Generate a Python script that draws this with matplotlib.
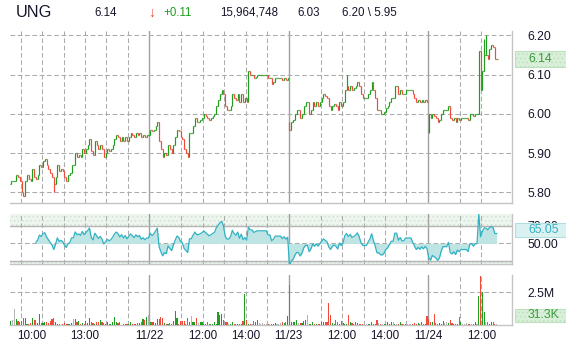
import numpy as np
import matplotlib
matplotlib.use("Agg")
import matplotlib.pyplot as plt
import matplotlib.transforms as mtransforms
from matplotlib.patches import Rectangle

plt.rcParams['font.family'] = ['Liberation Sans', 'DejaVu Sans']
plt.rcParams['hatch.linewidth'] = 0.6

# 5-minute closes, 78 bars per session (last session still open)
day1 = [5.83, 5.83, 5.83, 5.845, 5.84, 5.83, 5.80, 5.79, 5.83, 5.845,
        5.835, 5.83, 5.86, 5.84, 5.835, 5.845, 5.87, 5.865, 5.88, 5.885,
        5.87, 5.86, 5.85, 5.84, 5.82, 5.84, 5.87, 5.855, 5.86, 5.855,
        5.84, 5.83, 5.845, 5.85, 5.87, 5.87, 5.90, 5.89, 5.895, 5.89,
        5.91, 5.90, 5.91, 5.92, 5.935, 5.905, 5.895, 5.93, 5.92, 5.91,
        5.92, 5.91, 5.89, 5.90, 5.91, 5.905, 5.91, 5.92, 5.935, 5.945,
        5.94, 5.93, 5.94, 5.93, 5.94, 5.93, 5.94, 5.95, 5.945, 5.94,
        5.95, 5.945, 5.95, 5.94, 5.945, 5.94, 5.945, 5.945]
day2 = [5.96, 5.955, 5.96, 5.97, 5.98, 5.93, 5.91, 5.89, 5.90, 5.895,
        5.92, 5.91, 5.90, 5.92, 5.94, 5.96, 5.955, 5.94, 5.935, 5.91,
        5.90, 5.89, 5.95, 5.95, 5.97, 5.99, 5.98, 5.98, 5.985, 5.99,
        6.00, 5.995, 5.99, 5.985, 5.99, 5.995, 6.00, 6.02, 6.035, 6.05,
        6.06, 6.05, 6.02, 6.01, 6.01, 6.02, 6.05, 6.04, 6.035, 6.05,
        6.03, 6.05, 6.03, 6.04, 6.03, 6.11, 6.10, 6.10, 6.09, 6.095,
        6.10, 6.10, 6.10, 6.10, 6.10, 6.10, 6.09, 6.09, 6.075, 6.08,
        6.09, 6.09, 6.09, 6.09, 6.085, 6.09, 6.085, 6.09]
day3 = [5.96, 5.98, 5.985, 6.00, 6.01, 6.01, 5.99, 6.00, 6.02, 6.03,
        6.03, 6.00, 6.01, 6.03, 6.02, 6.03, 6.02, 6.03, 6.04, 6.05,
        6.045, 6.04, 6.02, 6.01, 6.02, 6.025, 6.02, 6.01, 6.03, 6.02,
        6.03, 6.06, 6.07, 6.06, 6.07, 6.06, 6.065, 6.07, 6.08, 6.07,
        6.05, 6.04, 6.04, 6.04, 6.05, 6.06, 6.08, 6.06, 6.04, 6.01,
        6.01, 6.00, 6.00, 6.005, 6.015, 6.02, 6.03, 6.04, 6.04, 6.07,
        6.07, 6.05, 6.06, 6.05, 6.05, 6.06, 6.06, 6.06, 6.06, 6.05,
        6.04, 6.03, 6.035, 6.03, 6.035, 6.03, 6.035, 6.03]
day4 = [6.00, 5.99, 6.00, 5.995, 5.99, 5.98, 5.985, 6.00, 6.01, 6.01,
        6.01, 6.02, 5.99, 5.985, 5.99, 5.98, 5.99, 5.985, 5.99, 5.99,
        5.99, 5.99, 5.985, 6.00, 6.00, 5.995, 6.00, 6.00, 6.16, 6.06,
        6.11, 6.15, 6.15, 6.14, 6.165, 6.175, 6.17, 6.14, 6.14]
day_opens = [5.82, 5.945, 5.98, 5.96]
wick_high = {188: 6.10, 265: 6.19, 266: 6.20}
wick_low = {24: 5.80, 234: 5.95}

# volume per bar, thousands of shares
vol1 = [300, 350, 1250, 425, 325, 200, 325, 500, 550, 100,
        50, 125, 500, 350, 350, 125, 850, 125, 125, 250,
        200, 125, 300, 450, 500, 200, 100, 100, 25, 75,
        125, 75, 50, 75, 125, 450, 450, 200, 300, 100,
        150, 100, 300, 125, 550, 250, 150, 100, 200, 250,
        400, 200, 150, 75, 250, 75, 100, 250, 600, 250,
        150, 200, 25, 50, 50, 75, 100, 200, 75, 50,
        100, 125, 125, 225, 450, 350, 625, 750]
vol2 = [250, 200, 250, 125, 450, 450, 625, 550, 150, 100,
        50, 150, 75, 300, 1100, 500, 100, 300, 300, 300,
        75, 550, 200, 650, 200, 200, 550, 150, 200, 200,
        50, 50, 200, 100, 50, 50, 250, 100, 1000, 800,
        850, 400, 200, 200, 100, 100, 200, 100, 100, 100,
        100, 75, 300, 2375, 350, 100, 100, 100, 300, 200,
        400, 150, 100, 150, 100, 50, 100, 50, 100, 50,
        150, 100, 50, 150, 250, 150, 200, 700]
vol3 = [3050, 200, 200, 200, 350, 150, 150, 150, 300, 400,
        800, 100, 100, 200, 50, 100, 100, 50, 200, 200,
        200, 200, 1700, 800, 150, 100, 400, 200, 100, 300,
        150, 100, 100, 800, 250, 150, 100, 250, 150, 100,
        100, 100, 50, 50, 50, 50, 200, 100, 100, 400,
        150, 100, 100, 100, 100, 200, 100, 250, 250, 50,
        50, 50, 200, 100, 50, 100, 50, 50, 50, 50,
        150, 100, 150, 100, 250, 50, 100, 700]
vol4 = [450, 200, 250, 850, 150, 100, 150, 100, 300, 150,
        200, 150, 350, 150, 50, 50, 50, 600, 200, 50,
        50, 150, 50, 50, 50, 100, 200, 100, 2200, 3750,
        2550, 1000, 200, 200, 100, 250, 250, 100, 100]

session_hours = [[10, 11, 12, 13, 14, 15], [11, 12, 13, 14, 15],
                 [11, 12, 13, 14, 15], [11, 12]]
tick_spots = [(0, 13, '13:00'), (1, 9.5, '11/22'), (1, 12, '12:00'),
              (1, 14, '14:00'), (2, 9.5, '11/23'), (2, 12, '12:00'),
              (2, 14, '14:00'), (3, 9.5, '11/24'), (3, 12, '12:00')]
header = ['UNG', '6.14', '\u2193', '+0.11', '15,964,748', '6.03', '6.20 \\ 5.95']
last_price, last_rsi, last_vol = '6.14', '65.05', '31.3K'

BARS = 78
GREEN, RED, GRAY = '#1e9e1e', '#f04a3a', '#b4b4b4'
TXT = '#15152a'


def bar_pos(day, hour):
    return day * BARS + (hour - 9.5) * 12 - 0.5


closes = np.array(day1 + day2 + day3 + day4)
n = len(closes)
x = np.arange(n)
opens = np.r_[closes[0], closes[:-1]]
for d, o in enumerate(day_opens):
    opens[d * BARS] = o
highs = np.maximum(opens, closes)
lows = np.minimum(opens, closes)
for i, v in wick_high.items():
    highs[i] = v
for i, v in wick_low.items():
    lows[i] = v
vols = np.array(vol1 + vol2 + vol3 + vol4)

# Wilder RSI(14)
delta = np.diff(closes)
gain = np.clip(delta, 0, None)
loss = np.clip(-delta, 0, None)
rsi = np.full(n, np.nan)
ag, al = gain[:14].mean(), loss[:14].mean()
rsi[14] = 100 - 100 / (1 + ag / al)
for i in range(15, n):
    ag = (ag * 13 + gain[i - 1]) / 14
    al = (al * 13 + loss[i - 1]) / 14
    rsi[i] = 100 if al == 0 else 100 - 100 / (1 + ag / al)

fig = plt.figure(figsize=(5.66, 3.5), dpi=100)
W, H = 566, 350
left, width = 10 / W, 502 / W
ax = fig.add_axes([left, (H - 203.3) / H, width, 172.3 / H])
axr = fig.add_axes([left, (H - 264) / H, width, 49.7 / H], sharex=ax)
axv = fig.add_axes([left, (H - 325) / H, width, 50 / H], sharex=ax)

dash = (0, (4.5, 2.5))
for a in (ax, axr, axv):
    for s in ('top', 'left'):
        a.spines[s].set_visible(False)
    for s in ('right', 'bottom'):
        a.spines[s].set_color('#c4c4c4')
        a.spines[s].set_linewidth(1.0)
    for d, hours in enumerate(session_hours):
        if d > 0:
            a.axvline(bar_pos(d, 9.5), color='#a0a0a0', lw=1.0, zorder=1)
        for h in hours:
            a.axvline(bar_pos(d, h), color='#ababab', lw=0.75, ls=dash, zorder=1)
    a.yaxis.tick_right()
    a.tick_params(axis='y', length=0, pad=11.3, labelsize=8.8, labelcolor=TXT)
    a.tick_params(axis='x', length=0)

ax.set_xlim(-0.5, 280.6)

# price bars (high-low stem, open tick left, close tick right)
up = closes >= opens
cols = np.where(up, GREEN, RED)
ax.vlines(x, lows, highs, colors=cols, lw=0.85, zorder=3)
ax.hlines(opens, x - 0.5, x, colors=cols, lw=0.85, zorder=3)
ax.hlines(closes, x, x + 0.5, colors=cols, lw=0.85, zorder=3)
ax.set_ylim(5.772, 6.211)
pticks = [5.80, 5.90, 6.00, 6.10, 6.20]
ax.set_yticks(pticks)
ax.set_yticklabels(['%.2f' % p for p in pticks])
for p in pticks:
    ax.axhline(p, color='#ababab', lw=0.75, ls=dash, zorder=1)
plt.setp(ax.get_xticklabels(), visible=False)

# RSI panel
axr.set_ylim(26.5, 83.3)
axr.axhspan(70, 83.3, facecolor='#eef5ef', edgecolor='#cfe2d2', hatch='....', lw=0, zorder=0)
axr.axhspan(26.5, 30, facecolor='#eef5ef', edgecolor='#cfe2d2', hatch='....', lw=0, zorder=0)
axr.axhline(70, color='#b4b4b4', lw=1.0, zorder=2)
axr.axhline(30, color='#b4b4b4', lw=1.0, zorder=2)
axr.axhline(50, color='#ababab', lw=0.75, ls=dash, zorder=1)
ok = ~np.isnan(rsi)
axr.fill_between(x[ok], rsi[ok], 50, color='#bfe4e4', lw=0, zorder=2)
axr.plot(x[ok], rsi[ok], color='#30b2c2', lw=0.9, zorder=3)
axr.set_yticks([50, 70])
axr.set_yticklabels(['50.00', '70.00'])
plt.setp(axr.get_xticklabels(), visible=False)

# volume panel
vcols = np.where(np.r_[True, np.diff(closes) > 0], GREEN,
                 np.where(np.r_[False, np.diff(closes) < 0], RED, GRAY))
axv.bar(x, vols, width=0.62, color=vcols, lw=0, zorder=3)
axv.set_ylim(0, 3820)
axv.axhline(2500, color='#ababab', lw=0.75, ls=dash, zorder=1)
axv.set_yticks([2500])
axv.set_yticklabels(['2.5M'])
axv.set_xticks([bar_pos(d, h) for d, h, _ in tick_spots])
axv.set_xticklabels([t for _, _, t in tick_spots])
axv.tick_params(axis='x', pad=3.5, labelsize=8.4, labelcolor=TXT)
first = mtransforms.offset_copy(axv.get_xaxis_transform(), fig=fig, x=11, y=-4.9, units='dots')
axv.text(bar_pos(0, 10), 0, '10:00', transform=first, ha='center', va='top',
         fontsize=8.4, color=TXT)

# value boxes on the right
bx0, bw, tx = (515 - 10) / 502, 60 / 502, (528 - 10) / 502
t = mtransforms.blended_transform_factory(ax.transAxes, ax.transData)
ax.add_patch(Rectangle((bx0, float(last_price) - 0.021), bw, 0.042, transform=t,
                       facecolor='#d9efd9', edgecolor='#bfe0bf', hatch='....',
                       lw=0.8, clip_on=False, zorder=5))
ax.text(tx, float(last_price), last_price, transform=t, ha='left', va='center',
        fontsize=8.8, color='#3c9e3c', zorder=6, clip_on=False)
t = mtransforms.blended_transform_factory(axr.transAxes, axr.transData)
axr.add_patch(Rectangle((bx0, float(last_rsi) - 7.9), bw, 15.8, transform=t,
                        facecolor='#daf1f1', edgecolor='#b0dfe0', lw=0.8,
                        clip_on=False, zorder=5))
axr.text(tx, float(last_rsi), last_rsi, transform=t, ha='left', va='center',
         fontsize=8.8, color='#35b0c0', zorder=6, clip_on=False)
axv.add_patch(Rectangle((bx0, 0.06), bw, 0.26, transform=axv.transAxes,
                        facecolor='#d9efd9', edgecolor='#bfe0bf', hatch='....',
                        lw=0.8, clip_on=False, zorder=5))
axv.text(tx, 0.19, last_vol, transform=axv.transAxes, ha='left', va='center',
         fontsize=8.8, color='#3c9e3c', zorder=6, clip_on=False)

# header line
hx = [16, 94, 148, 163, 220, 297, 342]
hcol = [TXT, TXT, RED, GREEN, TXT, TXT, TXT]
hsize = [11.7, 8.3, 10, 8.3, 8.3, 8.3, 8.3]
for s, px, c, fs in zip(header, hx, hcol, hsize):
    fig.text(px / W, (H - 12.5) / H, s, ha='left', va='center', color=c, fontsize=fs)

fig.savefig('out.png', dpi=100, facecolor='white')
